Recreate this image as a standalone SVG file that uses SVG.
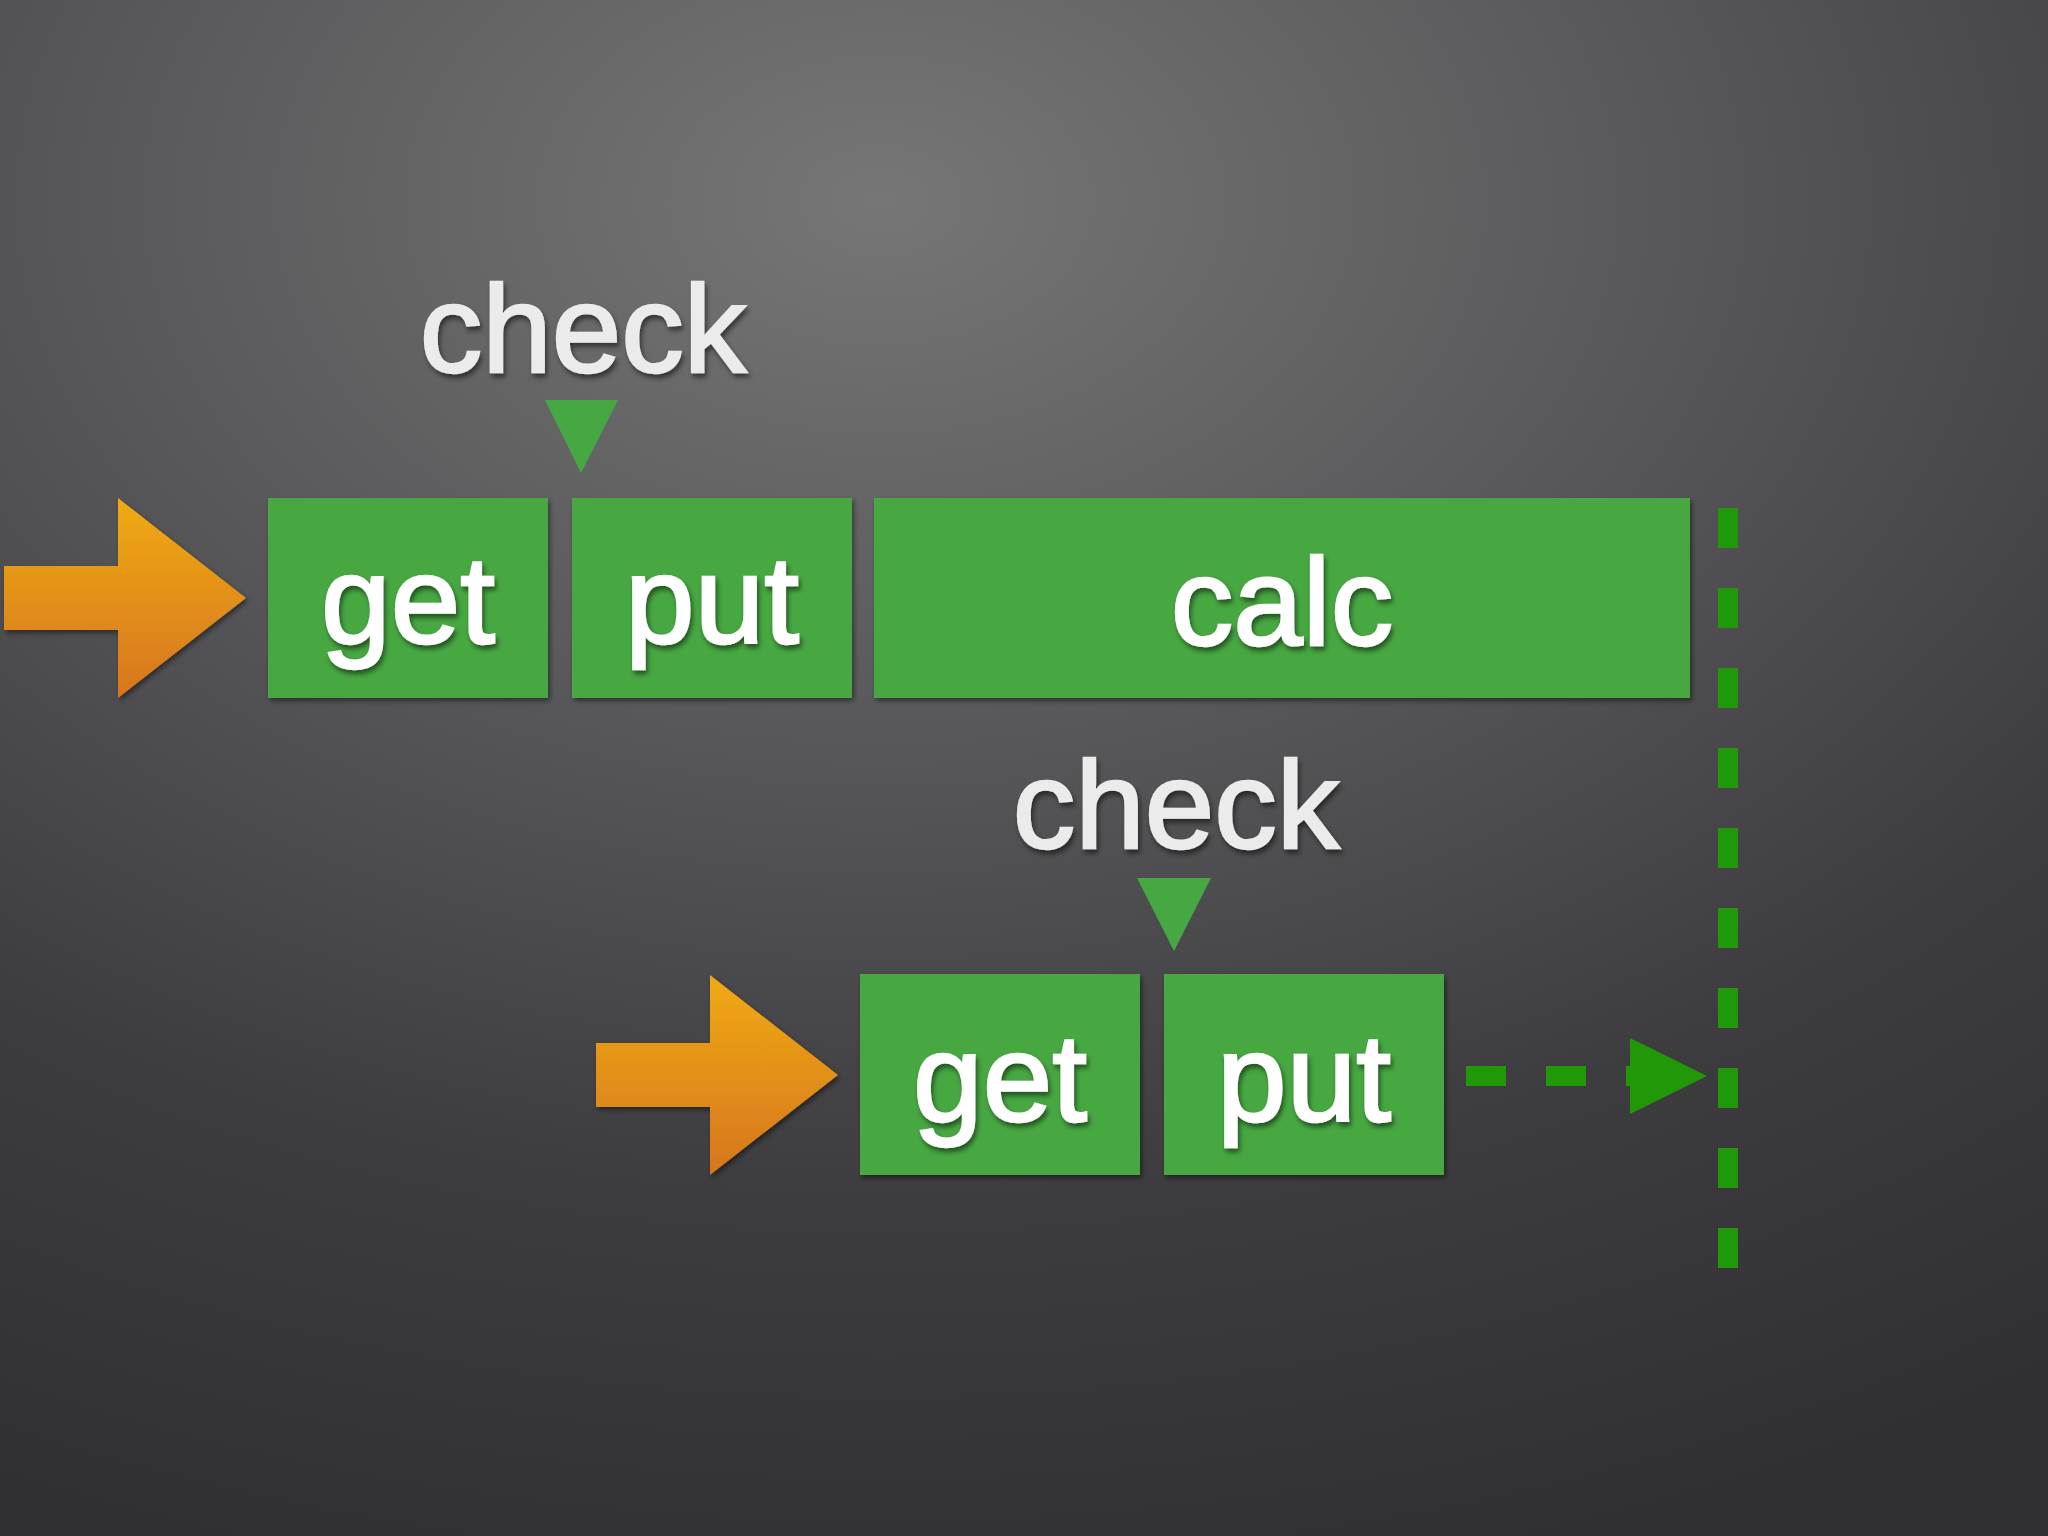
<svg xmlns="http://www.w3.org/2000/svg" width="2048" height="1536" viewBox="0 0 2048 1536">
<defs>
<radialGradient id="bg" cx="880" cy="200" r="1500" gradientUnits="userSpaceOnUse" gradientTransform="translate(880 200) scale(1.4 0.95) translate(-880 -200)">
<stop offset="0" stop-color="#767676"/>
<stop offset="0.35" stop-color="#5a5a5c"/>
<stop offset="0.7" stop-color="#3d3c3e"/>
<stop offset="1" stop-color="#302f31"/>
</radialGradient>
<linearGradient id="orange" x1="0" y1="0" x2="0" y2="1">
<stop offset="0" stop-color="#f0aa14"/>
<stop offset="1" stop-color="#d6761f"/>
</linearGradient>
<filter id="sh" x="-10%" y="-10%" width="120%" height="130%">
<feDropShadow dx="2" dy="3" stdDeviation="2.5" flood-color="#000" flood-opacity="0.45"/>
</filter>
<filter id="tsh" x="-10%" y="-10%" width="120%" height="130%">
<feDropShadow dx="2" dy="4" stdDeviation="2.5" flood-color="#000" flood-opacity="0.5"/>
</filter>
<polygon id="arrowShape" points="0,-32 114,-32 114,-100 242,0 114,100 114,32 0,32"/>
</defs>
<style>
.box{fill:#46a843;filter:url(#sh)}
.lbl{font-family:"Liberation Sans",Arial,Helvetica,sans-serif;font-size:125px;fill:#ffffff;stroke:#ffffff;stroke-width:2.5;text-anchor:middle;filter:url(#tsh)}
.chk{font-family:"Liberation Sans",Arial,Helvetica,sans-serif;font-size:125px;fill:#ebebeb;stroke:#ebebeb;stroke-width:2.5;text-anchor:middle;filter:url(#tsh)}
.tri{fill:#46a843}
.dash{stroke:#219807;stroke-width:20;stroke-dasharray:40 40;fill:none}
.orange{fill:url(#orange);filter:url(#sh)}
</style>
<rect width="2048" height="1536" fill="url(#bg)"/>

<g id="arrow1"><use href="#arrowShape" class="orange" transform="translate(4 598)"/></g>
<g id="arrow2"><use href="#arrowShape" class="orange" transform="translate(596 1075)"/></g>

<g id="check1">
<text class="chk" x="583" y="372">check</text>
<polygon class="tri" points="545,400 618,400 581,473"/>
</g>
<g id="check2">
<text class="chk" x="1176" y="848">check</text>
<polygon class="tri" points="1137,878 1211,878 1174,951"/>
</g>

<g id="get1"><rect class="box" x="268" y="498" width="280" height="200"/><text class="lbl" x="408" y="643">get</text></g>
<g id="put1"><rect class="box" x="572" y="498" width="280" height="200"/><text class="lbl" x="712" y="643">put</text></g>
<g id="calc"><rect class="box" x="874" y="498" width="816" height="200"/><text class="lbl" x="1282" y="645">calc</text></g>
<g id="get2"><rect class="box" x="860" y="974" width="280" height="201"/><text class="lbl" x="1000" y="1121">get</text></g>
<g id="put2"><rect class="box" x="1164" y="974" width="280" height="201"/><text class="lbl" x="1304" y="1121">put</text></g>

<g id="connectors">
<line class="dash" x1="1728" y1="508" x2="1728" y2="1268"/>
<line class="dash" x1="1466" y1="1076" x2="1646" y2="1076"/>
<polygon points="1630,1038 1707,1076 1630,1114" fill="#219807"/>
</g>
</svg>
